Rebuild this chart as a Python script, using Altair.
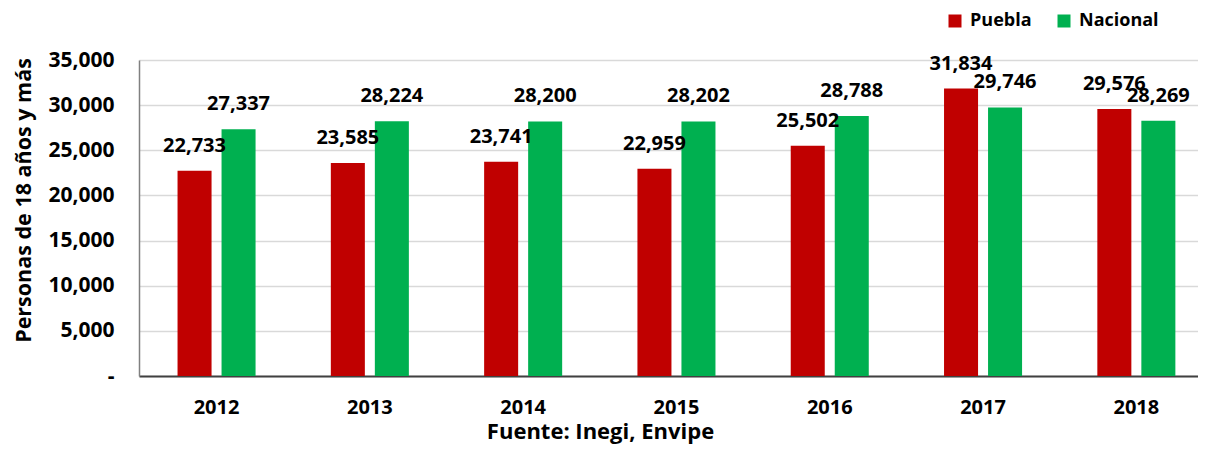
import altair as alt
import pandas as pd

years = ["2012", "2013", "2014", "2015", "2016", "2017", "2018"]
series = ["Puebla", "Nacional"]
puebla = [22733, 23585, 23741, 22959, 25502, 31834, 29576]
nacional = [27337, 28224, 28200, 28202, 28788, 29746, 28269]
colors = ["#C00000", "#00B050"]
y_ticks = [0, 5000, 10000, 15000, 20000, 25000, 30000, 35000]

rows = []
for i, yr in enumerate(years):
    rows.append({"anio": yr, "serie": "Puebla", "valor": puebla[i]})
    rows.append({"anio": yr, "serie": "Nacional", "valor": nacional[i]})
df = pd.DataFrame(rows)

FONT = "Open Sans"

x_enc = alt.X(
    "anio:N",
    sort=years,
    scale=alt.Scale(paddingInner=0.491, paddingOuter=0.1995, align=0.63),
    axis=alt.Axis(
        title="Fuente: Inegi, Envipe",
        labelAngle=0,
        labelFont=FONT,
        labelFontSize=20,
        labelFontWeight="bold",
        labelColor="#000000",
        labelBaseline="alphabetic",
        labelPadding=37,
        ticks=False,
        tickSize=0,
        domainColor="#404040",
        domainWidth=2,
        grid=False,
        titleFont=FONT,
        titleFontSize=22,
        titleFontWeight="bold",
        titleColor="#000000",
        titleX=461,
        titleY=62,
        titleAlign="center",
        titleBaseline="alphabetic",
    ),
)

y_enc = alt.Y(
    "valor:Q",
    scale=alt.Scale(domain=[0, 35000], nice=False),
    axis=alt.Axis(
        title="Personas de 18 años y más",
        values=y_ticks,
        labelExpr="datum.value == 0 ? '-\u00a0\u00a0\u00a0' : format(datum.value, ',')",
        labelFont=FONT,
        labelFontSize=21,
        labelFontWeight="bold",
        labelColor="#000000",
        labelPadding=25,
        ticks=False,
        tickSize=0,
        domainColor="#808080",
        domainWidth=1.5,
        gridColor="#D9D9D9",
        gridWidth=1.5,
        titleFont=FONT,
        titleFontSize=21.5,
        titleFontWeight="bold",
        titleColor="#000000",
        titleAngle=270,
        titleX=-109,
        titleY=140,
        titleAlign="center",
        titleBaseline="alphabetic",
    ),
)

xoff = alt.XOffset(
    "serie:N",
    sort=series,
    scale=alt.Scale(paddingInner=0.227, paddingOuter=0),
)

base = alt.Chart(df).encode(x=x_enc, y=y_enc, xOffset=xoff)

bars = base.mark_bar().encode(
    color=alt.Color(
        "serie:N",
        sort=series,
        scale=alt.Scale(domain=series, range=colors),
        legend=alt.Legend(
            title=None,
            orient="none",
            legendX=807,
            legendY=-48,
            direction="horizontal",
            symbolType="square",
            symbolSize=169,
            symbolStrokeWidth=0,
            labelFont=FONT,
            labelFontSize=18,
            labelFontWeight="bold",
            labelColor="#000000",
            labelOffset=6,
            columnPadding=23,
            padding=0,
        ),
    ),
)

labels = base.mark_text(
    font=FONT,
    fontSize=20,
    fontWeight="bold",
    color="#000000",
    baseline="alphabetic",
    align="center",
    dy=-19,
).encode(
    text=alt.Text("valor:Q", format=","),
)

chart = (
    alt.layer(bars, labels)
    .properties(
        width=1059,
        height=316,
        autosize=alt.AutoSizeParams(type="none"),
        padding={"left": 131, "top": 52, "right": 0, "bottom": 69},
        background="#FFFFFF",
    )
    .configure_view(strokeWidth=0)
)

chart.save("out.html", embed_options={"renderer": "svg", "actions": False})
